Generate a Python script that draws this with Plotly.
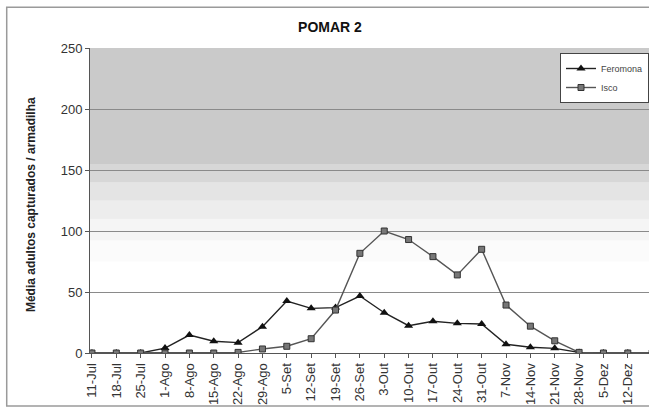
import plotly.graph_objects as go

categories = ["11-Jul", "18-Jul", "25-Jul", "1-Ago", "8-Ago", "15-Ago", "22-Ago", "29-Ago",
              "5-Set", "12-Set", "19-Set", "26-Set", "3-Out", "10-Out", "17-Out", "24-Out",
              "31-Out", "7-Nov", "14-Nov", "21-Nov", "28-Nov", "5-Dez", "12-Dez", "19-Dez"]
feromona = [0, 0, 0, 4, 14.7, 9.6, 8.5, 21.6, 42.6, 36.6, 37.2, 46.7, 33, 22.4, 26, 24.3,
            23.8, 7.1, 4.7, 3.8, 0.5, 0, 0, 0]
isco = [0, 0, 0, 0, 0, 0, 0.5, 3.3, 5.5, 11.7, 35.2, 81.7, 100, 93, 79, 64, 85, 39.3,
        22, 10, 0.5, 0, 0, 0]
y_ticks = [0, 50, 100, 150, 200, 250]

fig = go.Figure()

# textured background approximation (bands, paper-referenced)
bands = [(0.62, 1.0, "rgba(150,150,150,0.50)"),
         (0.56, 0.62, "rgba(155,155,155,0.40)"),
         (0.50, 0.56, "rgba(165,165,165,0.30)"),
         (0.44, 0.50, "rgba(175,175,175,0.22)"),
         (0.37, 0.44, "rgba(185,185,185,0.14)"),
         (0.30, 0.37, "rgba(195,195,195,0.07)")]
for y0, y1, c in bands:
    fig.add_shape(type="rect", xref="paper", yref="paper", x0=0, x1=1, y0=y0, y1=y1,
                  fillcolor=c, line=dict(width=0), layer="below")

# outer frame
fig.add_shape(type="rect", xref="paper", yref="paper", x0=-0.149, x1=1.02, y0=-0.174, y1=1.134,
              line=dict(color="#9a9a9a", width=1.5), fillcolor="rgba(0,0,0,0)", layer="above")

fig.add_trace(go.Scatter(x=categories, y=feromona, name="Feromona", mode="lines+markers",
                         line=dict(color="#222222", width=1.4),
                         marker=dict(symbol="triangle-up", size=8, color="#111111")))
fig.add_trace(go.Scatter(x=categories, y=isco, name="Isco", mode="lines+markers",
                         line=dict(color="#555555", width=1.4),
                         marker=dict(symbol="square", size=6, color="#777777",
                                     line=dict(color="#333333", width=1))))

fig.add_annotation(text="<b>Média adultos capturados / armadilha</b>", textangle=-90,
                   xref="paper", yref="paper", x=(31 - 90) / 559, y=0.485,
                   xanchor="center", yanchor="middle", showarrow=False,
                   font=dict(size=12, color="#222222"))

fig.update_layout(
    width=649, height=408,
    margin=dict(l=90, r=0, t=48, b=55, autoexpand=False),
    paper_bgcolor="white", plot_bgcolor="white",
    font=dict(family="Liberation Sans, Arial, sans-serif", color="#222222", size=13),
    title=dict(text="<b>POMAR 2</b>", x=330/649, xanchor="center", xref="container",
               y=1 - 27/408, yanchor="middle", yref="container",
               font=dict(size=14, color="#111111")),
    showlegend=True,
    legend=dict(x=(560 - 90) / 559, y=(353 - 53) / 305, xanchor="left", yanchor="top",
                bgcolor="white", bordercolor="#444444", borderwidth=1,
                font=dict(size=9, color="#444444"), tracegroupgap=0,
                itemwidth=30),
    xaxis=dict(type="category", range=[-0.08, 22.87], tickangle=-90, automargin=False,
               showline=True, linecolor="#555555", linewidth=1,
               ticks="outside", ticklen=4, tickcolor="#555555",
               showgrid=False, tickfont=dict(size=13, color="#333333")),
    yaxis=dict(range=[0, 250], tickvals=y_ticks, showline=True, linecolor="#555555",
               automargin=False, linewidth=1, ticks="outside", ticklen=4, tickcolor="#555555",
               showgrid=True, gridcolor="#8a8a8a", gridwidth=1, zeroline=False,
               tickfont=dict(size=13, color="#333333")),
)

fig.write_html("out.html", config={"displayModeBar": False},
               post_script="document.body.style.margin='0';")
